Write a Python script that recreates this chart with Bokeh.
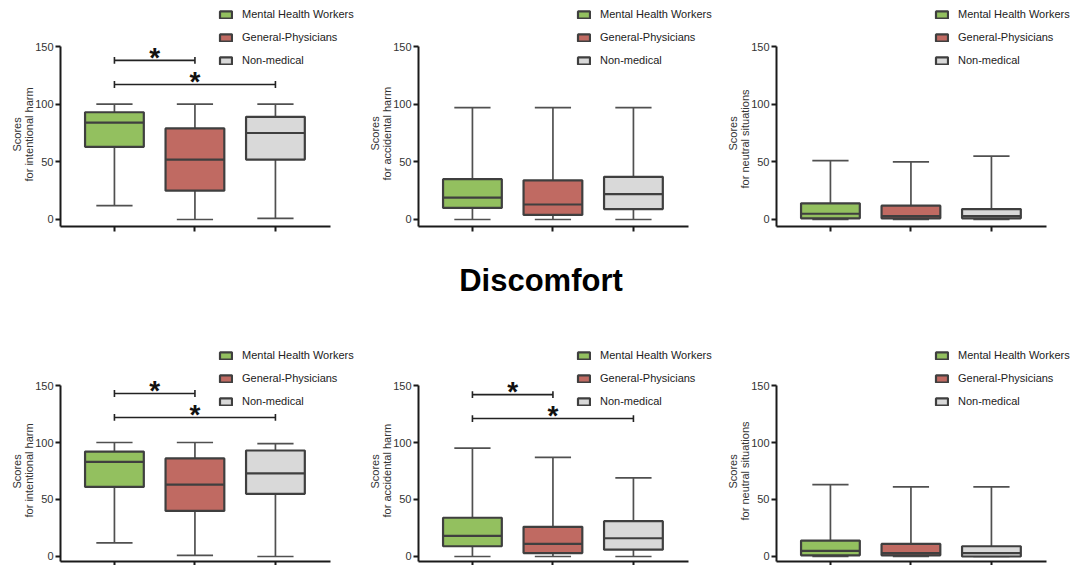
from bokeh.plotting import figure
from bokeh.models import FixedTicker, Legend, LegendItem, Range1d, Div, Title
from bokeh.layouts import column, row
from bokeh.embed import file_html
from bokeh.resources import INLINE
from bokeh.core.properties import value

# ---------------- data ----------------
groups = ["Mental Health Workers", "General-Physicians", "Non-medical"]
x_pos = [1, 2, 3]
y_ticks = [0, 50, 100, 150]
title_text = "Discomfort"

# top row - intentional harm
a_low = [12, 0, 1]
a_q1 = [63, 25, 52]
a_med = [84, 52, 75]
a_q3 = [93, 79, 89]
a_high = [100, 100, 100]
a_sig = [138, 117]

# top row - accidental harm
b_low = [0, 0, 0]
b_q1 = [10, 4, 9]
b_med = [19, 13, 22]
b_q3 = [35, 34, 37]
b_high = [97, 97, 97]
b_sig = []

# top row - neutral situations
c_low = [0, 0, 0]
c_q1 = [1, 1, 1]
c_med = [5, 3, 3]
c_q3 = [14, 12, 9]
c_high = [51, 50, 55]
c_sig = []

# bottom row - intentional harm
d_low = [12, 1, 0]
d_q1 = [61, 40, 55]
d_med = [83, 63, 73]
d_q3 = [92, 86, 93]
d_high = [100, 100, 99]
d_sig = [143, 122]

# bottom row - accidental harm
e_low = [0, 0, 0]
e_q1 = [9, 3, 6]
e_med = [18, 11, 16]
e_q3 = [34, 26, 31]
e_high = [95, 87, 69]
e_sig = [142, 121]

# bottom row - neutral situations
f_low = [0, 0, 0]
f_q1 = [1, 1, 0]
f_med = [5, 3, 3]
f_q3 = [14, 11, 9]
f_high = [63, 61, 61]
f_sig = []

sig_pairs = [(1, 2), (1, 3)]

label_top = "Scores"
label_sub = ["for intentional harm", "for accidental harm", "for neutral situations"]

# ---------------- style ----------------
fills = ["#93c05f", "#c06a62", "#d9d9d9"]
edge = "#3f3f3f"
FONT = "Liberation Sans"
PX_PER_CAT = 80.5
X0 = 0.33


def make_panel(sub, low, q1, med, q3, high, sig, yr, fh, fw, mbr, mbt, mbb, tick_out_x,
               off_sub, off_top):
    p = figure(frame_width=fw, frame_height=fh, min_border_left=60, min_border_right=mbr,
               min_border_top=mbt, min_border_bottom=mbb, output_backend="svg",
               toolbar_location=None, x_range=Range1d(X0, X0 + fw / PX_PER_CAT),
               y_range=Range1d(*yr))
    p.grid.visible = False
    p.outline_line_color = None
    p.background_fill_color = None
    p.border_fill_color = None

    bw, cw = 0.365, 0.225
    # whiskers
    p.segment(x0=x_pos, x1=x_pos, y0=q3, y1=high, line_color="#505050", line_width=1.7)
    p.segment(x0=x_pos, x1=x_pos, y0=low, y1=q1, line_color="#505050", line_width=1.7)
    p.segment(x0=[x - cw for x in x_pos], x1=[x + cw for x in x_pos], y0=high, y1=high,
              line_color="#505050", line_width=1.7)
    p.segment(x0=[x - cw for x in x_pos], x1=[x + cw for x in x_pos], y0=low, y1=low,
              line_color="#505050", line_width=1.7)
    items = []
    for i in range(3):
        r = p.quad(left=[x_pos[i] - bw], right=[x_pos[i] + bw], bottom=[q1[i]], top=[q3[i]],
                   fill_color=fills[i], line_color=edge, line_width=2.2)
        items.append(LegendItem(label=groups[i], renderers=[r]))
    p.segment(x0=[x - bw for x in x_pos], x1=[x + bw for x in x_pos], y0=med, y1=med,
              line_color=edge, line_width=2.2)

    # significance bars
    for (a, b), yv in zip(sig_pairs, sig):
        p.segment(x0=[a], x1=[b], y0=[yv], y1=[yv], line_color="#222222", line_width=1.6)
        p.segment(x0=[a, b], x1=[a, b], y0=[yv - 3, yv - 3], y1=[yv + 3, yv + 3],
                  line_color="#222222", line_width=1.6)
        p.text(x=[(a + b) / 2], y=[yv], text=["*"], text_font=value(FONT),
               text_font_style="bold", text_font_size="28px", text_align="center",
               text_baseline="alphabetic", y_offset=-3, text_color="#111111")

    # axes
    ya = p.yaxis[0]
    ya.ticker = FixedTicker(ticks=y_ticks)
    ya.bounds = (yr[0], 150)
    ya.axis_line_width = 2
    ya.axis_line_color = "#1a1a1a"
    ya.major_tick_line_width = 2
    ya.major_tick_line_color = "#1a1a1a"
    ya.major_tick_out = 5
    ya.major_tick_in = 0
    ya.minor_tick_out = 0
    ya.minor_tick_in = 0
    ya.major_label_text_font = FONT
    ya.major_label_text_font_size = "11px"
    ya.major_label_text_color = "#333333"
    ya.major_label_standoff = 2

    # two-line y-axis title as side titles, placed along the 0-150 span
    for txt, off, so in ((sub, off_sub, -4), (label_top, off_top, 0)):
        p.add_layout(Title(text=txt, align="left", offset=off, standoff=so,
                           text_font=FONT, text_font_size="11px", text_font_style="normal",
                           text_color="#333333"), "left")

    xa = p.xaxis[0]
    xa.ticker = FixedTicker(ticks=x_pos)
    xa.bounds = (X0, 3.68)
    xa.axis_line_width = 2
    xa.axis_line_color = "#1a1a1a"
    xa.major_tick_line_width = 2
    xa.major_tick_line_color = "#1a1a1a"
    xa.major_tick_out = tick_out_x
    xa.major_tick_in = 0
    xa.minor_tick_out = 0
    xa.minor_tick_in = 0
    xa.major_label_text_font_size = "0px"
    xa.major_label_standoff = 0
    xa.major_label_overrides = {1: "", 2: "", 3: ""}

    leg = Legend(items=items, location=(158, fh - 58), glyph_width=15, glyph_height=9,
                 label_height=9, spacing=11, padding=0, margin=0, label_standoff=9,
                 label_text_font=FONT, label_text_font_size="11px", label_text_color="#222222",
                 border_line_color=None, background_fill_alpha=0)
    p.add_layout(leg)
    return p


top_yr = (-6.07, 182.95)
bot_yr = (-4.4, 181.6)

p1 = make_panel(label_sub[0], a_low, a_q1, a_med, a_q3, a_high, a_sig, top_yr, 218, 296, 2, 8, 6, 5, 45, 75)
p2 = make_panel(label_sub[1], b_low, b_q1, b_med, b_q3, b_high, b_sig, top_yr, 218, 296, 2, 8, 6, 5, 46, 76)
p3 = make_panel(label_sub[2], c_low, c_q1, c_med, c_q3, c_high, c_sig, top_yr, 218, 296, 5, 8, 6, 5, 38, 76)
p4 = make_panel(label_sub[0], d_low, d_q1, d_med, d_q3, d_high, d_sig, bot_yr, 212, 296, 2, 0, 4, 4, 44, 73)
p5 = make_panel(label_sub[1], e_low, e_q1, e_med, e_q3, e_high, e_sig, bot_yr, 212, 296, 2, 0, 4, 4, 44, 73)
p6 = make_panel(label_sub[2], f_low, f_q1, f_med, f_q3, f_high, f_sig, bot_yr, 212, 296, 5, 0, 4, 4, 41, 73)

title = Div(text=('<div style="width:1077px;text-align:center;font-family:\'Liberation Sans\',Arial,sans-serif;'
                  'font-weight:bold;font-size:31px;line-height:34px;padding-top:32px;padding-left:5px;color:#000">'
                  + title_text + '</div>'), width=1077, height=117, margin=0)

layout = column(row(p1, p2, p3), title, row(p4, p5, p6))
open("out.html", "w").write(file_html(layout, INLINE))
